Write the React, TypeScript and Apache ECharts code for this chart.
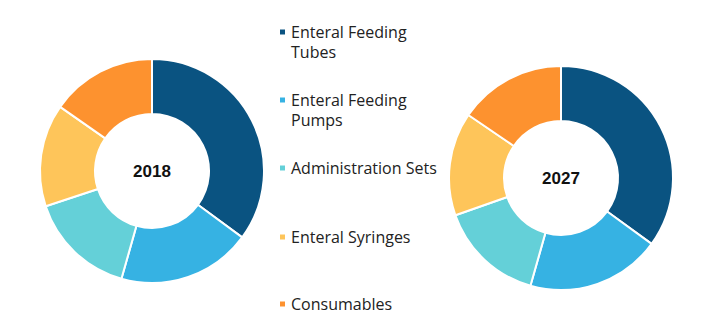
import React, { useEffect, useRef } from "react";
import * as echarts from "echarts";

const categories = [
  "Enteral Feeding Tubes",
  "Enteral Feeding Pumps",
  "Administration Sets",
  "Enteral Syringes",
  "Consumables",
];
const legendLabels = [
  "Enteral Feeding\nTubes",
  "Enteral Feeding\nPumps",
  "Administration Sets",
  "Enteral Syringes",
  "Consumables",
];
const colors = ["#0a5381", "#36b2e3", "#64d0d8", "#fec55a", "#fd922f"];
const years = ["2018", "2027"];
const values2018 = [35.1, 19.3, 15.5, 14.8, 15.3];
const values2027 = [35.0, 19.4, 15.2, 14.9, 15.5];
const legendIconY = [32, 100, 168, 237, 304];

export default function App() {
  const ref = useRef<HTMLDivElement>(null);
  useEffect(() => {
    const chart = echarts.init(ref.current!, undefined, { renderer: "svg" });
    const font = "Open Sans";
    const lh = 20;
    const legends: any[] = [];
    categories.forEach((name, i) => {
      const lines = legendLabels[i].split("\n");
      lines.forEach((line, k) => {
        const lg: any = {
          data: [name],
          orient: "vertical",
          left: 278,
          top: legendIconY[i] + k * lh - lh / 2,
          padding: 0,
          icon: "rect",
          itemWidth: 7,
          itemHeight: 7,
          selectedMode: false,
          formatter: () => line,
          textStyle: {
            fontFamily: font,
            fontSize: 16,
            color: "#222",
            lineHeight: lh,
          },
        };
        if (k > 0) lg.itemStyle = { opacity: 0 };
        legends.push(lg);
      });
    });
    const mk = (vals: number[], center: [number, number]) => ({
      type: "pie",
      center,
      radius: [57, 112],
      startAngle: 90,
      clockwise: true,
      label: { show: false },
      labelLine: { show: false },
      silent: true,
      itemStyle: { borderColor: "#fff", borderWidth: 2 },
      data: categories.map((c, i) => ({
        name: c,
        value: vals[i],
        itemStyle: { color: colors[i] },
      })),
    });
    const yearText = (text: string, x: number, y: number) => ({
      type: "text",
      x,
      y,
      style: {
        text,
        fontFamily: "Liberation Sans",
        fontWeight: "bold",
        fontSize: 17,
        fill: "#111",
        align: "center",
        verticalAlign: "middle",
      },
    });
    chart.setOption({
      animation: false,
      color: colors,
      legend: legends,
      series: [mk(values2018, [152, 171]), mk(values2027, [561, 178])],
      graphic: [yearText(years[0], 152, 171), yearText(years[1], 561, 178)],
    });
    return () => chart.dispose();
  }, []);
  return (
    <div
      ref={ref}
      style={{ width: 713, height: 327, position: "absolute", left: 0, top: 0 }}
    />
  );
}
